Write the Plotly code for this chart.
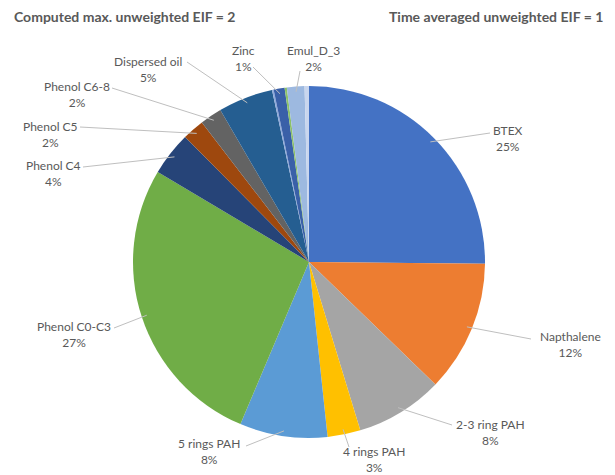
import math
import plotly.graph_objects as go

# ---- data ----
labels = ["BTEX", "Napthalene", "2-3 ring PAH", "4 rings PAH", "5 rings PAH",
          "Phenol C0-C3", "Phenol C4", "Phenol C5", "Phenol C6-8", "Dispersed oil",
          "", "Zinc", "", "Emul_D_3", ""]
values = [25, 12, 8, 3, 8, 27, 4, 2, 2, 5, 0.15, 1, 0.2, 1.6, 0.4]
title_left = "Computed max. unweighted EIF = 2"
title_right = "Time averaged unweighted EIF = 1"

# ---- styles ----
colors = ["#4472C4", "#ED7D31", "#A5A5A5", "#FFC000", "#5B9BD5", "#70AD47",
          "#264478", "#9E480E", "#636363", "#255E91", "#8FAADC", "#3A60A8",
          "#8CC168", "#9DB9E0", "#C9D6EE"]

W, H = 615, 475
CX, CY, R = 309, 262, 176

# label layout (pixel positions of label centers and leader end points)
label_xy = {
    "BTEX": (508, 138), "Napthalene": (570, 344), "2-3 ring PAH": (490, 432),
    "4 rings PAH": (374, 459), "5 rings PAH": (209, 451), "Phenol C0-C3": (74, 334),
    "Phenol C4": (53, 174), "Phenol C5": (50, 134), "Phenol C6-8": (77, 95),
    "Dispersed oil": (148, 69), "Zinc": (243, 59), "Emul_D_3": (313, 59),
}
leader_end = {
    "BTEX": (490, 133), "Napthalene": (531, 339), "2-3 ring PAH": (452, 425),
    "4 rings PAH": (349, 447), "5 rings PAH": (246, 446), "Phenol C0-C3": (114, 328),
    "Phenol C4": (83, 167), "Phenol C5": (80, 127), "Phenol C6-8": (112, 88),
    "Dispersed oil": (187, 62), "Zinc": (253, 67), "Emul_D_3": (300, 71),
}


def px(x):
    return x / W


def py(y):
    return 1 - y / H


fig = go.Figure(go.Pie(
    labels=[l if l else f"other{i}" for i, l in enumerate(labels)],
    values=values,
    sort=False,
    direction="clockwise",
    rotation=0,
    textinfo="none",
    hoverinfo="label+value",
    marker=dict(colors=colors, line=dict(width=0)),
    domain=dict(x=[px(CX - R), px(CX + R)], y=[py(CY + R), py(CY - R)]),
    showlegend=False,
))

annotations = []
shapes = []
total = sum(values)
cum = 0.0
for lab, v in zip(labels, values):
    mid = (cum + v / 2) / total * 2 * math.pi
    cum += v
    if not lab:
        continue
    sx = CX + 0.97 * R * math.sin(mid)
    sy = CY - 0.97 * R * math.cos(mid)
    ex, ey = leader_end[lab]
    shapes.append(dict(type="line", xref="paper", yref="paper",
                       x0=px(sx), y0=py(sy), x1=px(ex), y1=py(ey),
                       line=dict(color="#BFBFBF", width=1)))
    lx, ly = label_xy[lab]
    annotations.append(dict(
        x=px(lx), y=py(ly), xref="paper", yref="paper",
        text=f"{lab}<br>{round(v)}%", showarrow=False,
        xanchor="center", yanchor="middle", align="center",
        font=dict(family="Lato", size=12, color="#595959"),
    ))

annotations.append(dict(x=px(12), y=py(17), xref="paper", yref="paper",
                        text=f"<b>{title_left}</b>", showarrow=False,
                        xanchor="left", yanchor="middle",
                        font=dict(family="Lato", size=14, color="#595959")))
annotations.append(dict(x=px(605), y=py(17), xref="paper", yref="paper",
                        text=f"<b>{title_right}</b>", showarrow=False,
                        xanchor="right", yanchor="middle",
                        font=dict(family="Lato", size=14, color="#595959")))

fig.update_layout(
    width=W, height=H,
    margin=dict(l=0, r=0, t=0, b=0),
    paper_bgcolor="white", plot_bgcolor="white",
    annotations=annotations, shapes=shapes,
)

fig.write_html("out.html")
